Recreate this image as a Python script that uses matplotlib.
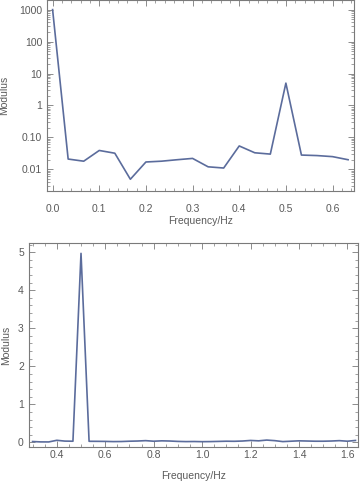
import numpy as np
import matplotlib
matplotlib.use("Agg")
import matplotlib.pyplot as plt
from matplotlib.ticker import FixedLocator, MultipleLocator, LogLocator, NullFormatter, FormatStrFormatter

# Spectrum values (frequency step 1/30 Hz)
freq_log = [i / 30 for i in range(20)]
mod_log = [1000, 0.021, 0.018, 0.039, 0.032, 0.0049, 0.017, 0.018, 0.020, 0.022,
           0.012, 0.011, 0.054, 0.033, 0.030, 5.0, 0.028, 0.027, 0.025, 0.020]

freq_lin = [i / 30 for i in range(9, 50)]
mod_lin = [0.022, 0.012, 0.011, 0.054, 0.033, 0.030, 4.97, 0.028, 0.027, 0.025,
           0.020, 0.022, 0.030, 0.035, 0.045, 0.030, 0.040, 0.035, 0.025, 0.020,
           0.022, 0.018, 0.020, 0.025, 0.030, 0.028, 0.035, 0.050, 0.040, 0.060,
           0.045, 0.020, 0.030, 0.040, 0.035, 0.030, 0.030, 0.035, 0.045, 0.030, 0.050]

line_color = "#5b6c9c"
frame_color = "#7a7a7a"
text_color = "#5a5a5a"

plt.rcParams["font.family"] = ["Liberation Sans", "DejaVu Sans"]
plt.rcParams["font.size"] = 7.5


def style_axes(ax, xpad):
    for s in ax.spines.values():
        s.set_color(frame_color)
        s.set_linewidth(0.8)
    ax.tick_params(which="both", direction="in", top=True, right=True,
                   color=frame_color, labelcolor=text_color, labelsize=7.5)
    ax.tick_params(which="major", length=4, width=0.6)
    ax.tick_params(which="minor", length=2, width=0.5)
    ax.tick_params(axis="x", pad=xpad)


fig = plt.figure(figsize=(3.6, 4.83), dpi=100)

# top: log scale
ax1 = fig.add_axes([47 / 360, 1 - 191 / 483, (354 - 47) / 360, 191 / 483])
ax1.plot(freq_log, mod_log, color=line_color, lw=1.2)
ax1.set_yscale("log")
ax1.set_xlim(-0.012, 0.646)
ax1.set_ylim(0.0021, 2000)
ax1.set_xticks([0, 0.1, 0.2, 0.3, 0.4, 0.5, 0.6])
ax1.set_xticklabels(["0.0", "0.1", "0.2", "0.3", "0.4", "0.5", "0.6"])
ax1.xaxis.set_minor_locator(MultipleLocator(0.02))
ax1.yaxis.set_major_locator(FixedLocator([0.01, 0.1, 1, 10, 100, 1000]))
ax1.yaxis.set_minor_locator(LogLocator(base=10, subs=np.arange(2, 10)))
ax1.yaxis.set_minor_formatter(NullFormatter())
ax1.set_yticklabels(["0.01", "0.10", "1", "10", "100", "1000"])
ax1.set_xlabel("Frequency/Hz", color=text_color, fontsize=7.5, labelpad=2)
ax1.set_ylabel("Modulus", color=text_color, fontsize=7.5, labelpad=7)
style_axes(ax1, 9)

# bottom: linear scale
ax2 = fig.add_axes([28.7 / 360, 1 - 447.3 / 483, (358.3 - 28.7) / 360, (447.3 - 242.7) / 483])
ax2.plot(freq_lin, mod_lin, color=line_color, lw=1.2)
ax2.set_xlim(0.284, 1.645)
ax2.set_ylim(-0.13, 5.25)
ax2.xaxis.set_major_locator(MultipleLocator(0.2))
ax2.xaxis.set_minor_locator(MultipleLocator(0.05))
ax2.yaxis.set_major_locator(MultipleLocator(1))
ax2.yaxis.set_minor_locator(MultipleLocator(0.2))
ax2.xaxis.set_major_formatter(FormatStrFormatter("%.1f"))
ax2.set_xlabel("Frequency/Hz", color=text_color, fontsize=7.5, labelpad=8)
ax2.set_ylabel("Modulus", color=text_color, fontsize=7.5, labelpad=5)
style_axes(ax2, 2)

fig.savefig("out.png", dpi=100)
